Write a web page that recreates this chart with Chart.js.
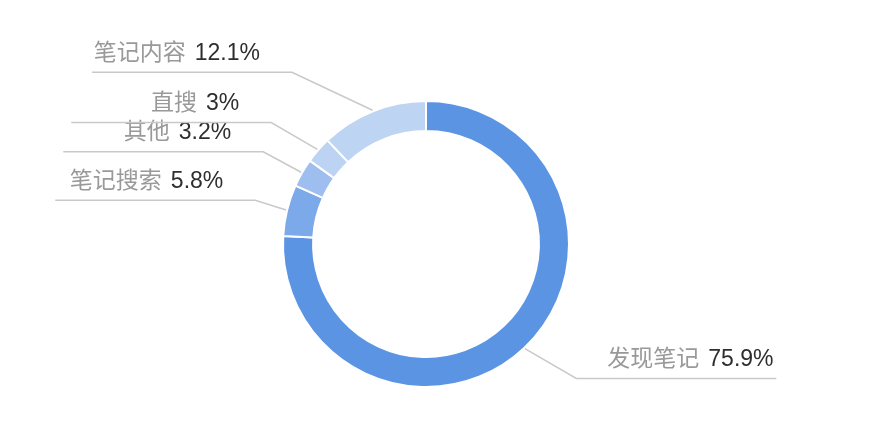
<!DOCTYPE html>
<html>
<head>
<meta charset="utf-8">
<script src="https://cdn.jsdelivr.net/npm/chart.js@4/dist/chart.umd.min.js"></script>
<style>
  html, body { margin: 0; padding: 0; background: #fff; }
  #wrap { width: 882px; height: 422px; }
</style>
</head>
<body>
<div id="wrap"><canvas id="myChart"></canvas></div>
<script>
// source share of visits (%)
const categories = ['发现笔记', '笔记搜索', '其他', '直搜', '笔记内容'];
const shares = [75.9, 5.8, 3.2, 3, 12.1];
const colors = ['#5b94e3', '#7ca9ea', '#9dbeef', '#bcd3f3', '#bdd4f3'];

const FONT = '23px "Liberation Sans", "Noto Sans CJK SC", sans-serif';

// leader lines + labels, ECharts-like
const pieLabels = {
    id: 'pieLabels',
    afterDatasetsDraw(chart) {
        const ctx = chart.ctx;
        const arcs = chart.getDatasetMeta(0).data;
        ctx.save();
        ctx.font = FONT;
        ctx.textBaseline = 'middle';
        arcs.forEach((arc, i) => {
            const p = arc.getProps(['x', 'y', 'startAngle', 'endAngle', 'outerRadius'], true);
            const mid = (p.startAngle + p.endAngle) / 2;
            const dx = Math.cos(mid), dy = Math.sin(mid);
            const r = p.outerRadius;
            const sx = p.x + (r + 1) * dx, sy = p.y + (r + 1) * dy;
            // elbow: y radial, x on a squashed ellipse
            const ey = p.y + (r + 42) * dy;
            const a = r + 30, b = r * 1.9;
            const side = dx < 0 ? -1 : 1;
            const t = Math.max(0, 1 - Math.pow((ey - p.y) / b, 2));
            const ex = p.x + side * a * Math.sqrt(t);
            const hx = ex + side * 200;

            ctx.strokeStyle = '#c9c9c9';
            ctx.lineWidth = 1.5;
            ctx.beginPath();
            ctx.moveTo(sx, sy);
            ctx.lineTo(ex, ey);
            ctx.lineTo(hx, ey);
            ctx.stroke();

            const label = categories[i];
            const value = shares[i] + '%';
            const gap = 9;
            const lw = ctx.measureText(label).width;
            const vw = ctx.measureText(value).width;
            const ty = ey - 19;
            let x0;
            if (side < 0) {
                x0 = ex - 32 - vw - gap - lw;
            } else {
                x0 = ex + 31;
            }
            ctx.textAlign = 'left';
            ctx.fillStyle = '#999999';
            ctx.fillText(label, x0, ty);
            ctx.fillStyle = '#2e2e2e';
            ctx.fillText(value, x0 + lw + gap, ty);
        });
        ctx.restore();
    }
};

const ctx = document.getElementById('myChart').getContext('2d');
const myChart = new Chart(ctx, {
    type: 'doughnut',
    data: {
        labels: categories,
        datasets: [{
            data: shares,
            backgroundColor: colors,
            borderColor: '#ffffff',
            borderWidth: 2
        }]
    },
    options: {
        responsive: true,
        maintainAspectRatio: false,
        animation: false,
        cutout: '79%',
        layout: { padding: { top: 100, bottom: 34, left: 100, right: 130 } },
        plugins: {
            legend: { display: false },
            tooltip: { enabled: false }
        }
    },
    plugins: [pieLabels]
});
</script>
</body>
</html>
